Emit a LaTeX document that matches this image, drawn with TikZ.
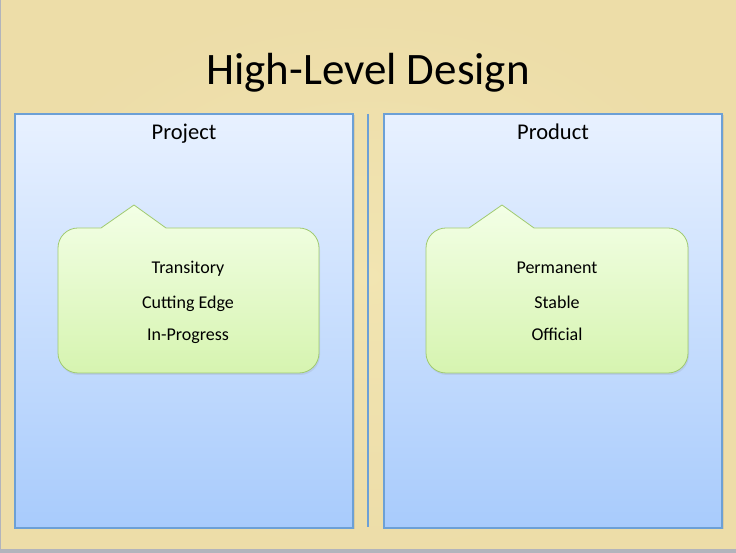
\documentclass[tikz,border=0pt]{standalone}
\usepackage{fontspec}
\setmainfont{Carlito}
\usetikzlibrary{shadows}
\definecolor{parchment}{RGB}{242,229,178}
\definecolor{parchdark}{RGB}{233,214,160}
\definecolor{paneltop}{RGB}{232,241,255}
\definecolor{panelbot}{RGB}{168,203,252}
\definecolor{panelline}{RGB}{108,160,214}
\definecolor{calltop}{RGB}{243,255,230}
\definecolor{callbot}{RGB}{214,244,176}
\definecolor{callline}{RGB}{160,202,112}
\definecolor{edgegrey}{RGB}{178,180,188}
\tikzset{
  panel/.style={draw=panelline, line width=1.2pt, top color=paneltop, bottom color=panelbot,
    drop shadow={shadow xshift=1.5pt, shadow yshift=-1.5pt, opacity=0.2}},
  callout/.style={draw=callline, line width=0.8pt, top color=calltop, bottom color=callbot,
    drop shadow={shadow xshift=1pt, shadow yshift=-2pt, opacity=0.15}},
  heading/.style={anchor=base, font=\fontsize{22.5}{27}\selectfont, text=black},
  item/.style={anchor=base, font=\fontsize{18}{22}\selectfont, text=black},
}
\begin{document}
\begin{tikzpicture}[x=1pt,y=1pt]
% page and parchment
\useasboundingbox (0,0) rectangle (736,553);
\fill[parchment] (0,0) rectangle (736,553);
\shade[inner color=parchment, outer color=parchdark, opacity=0.5] (0,0) rectangle (736,553);
\fill[edgegrey] (0,0) rectangle (736,4);
\fill[edgegrey] (0,0) rectangle (1.2,553);

% title
\node[anchor=base, font=\fontsize{45}{54}\selectfont] (title) at (368,468) {High-Level Design};

% two panels
\path[panel] (15,25) rectangle (353,439);
\path[panel] (384,25) rectangle (722,439);
\node[heading] (projhead) at (184,413) {Project};
\node[heading] (prodhead) at (553,413) {Product};

% separator
\coordinate (septop) at (368,439);
\coordinate (sepbot) at (368,26);
\draw[panelline, line width=2pt] (septop) -- (sepbot);

% callout on the left
\path[callout] (101,325) -- (134,348) -- (166,325) -- (299,325)
  arc[start angle=90,end angle=0,radius=20] -- (319,200)
  arc[start angle=0,end angle=-90,radius=20] -- (78,180)
  arc[start angle=270,end angle=180,radius=20] -- (58,305)
  arc[start angle=180,end angle=90,radius=20] -- cycle;
\node[item] (l1) at (188,279) {Transitory};
\node[item] (l2) at (188,244) {Cutting Edge};
\node[item] (l3) at (188,212) {In-Progress};

% callout on the right
\path[callout] (469,325) -- (502,348) -- (534,325) -- (668,325)
  arc[start angle=90,end angle=0,radius=20] -- (688,200)
  arc[start angle=0,end angle=-90,radius=20] -- (446,180)
  arc[start angle=270,end angle=180,radius=20] -- (426,305)
  arc[start angle=180,end angle=90,radius=20] -- cycle;
\node[item] (r1) at (557,279) {Permanent};
\node[item] (r2) at (557,244) {Stable};
\node[item] (r3) at (557,212) {Official};
\end{tikzpicture}
\end{document}
